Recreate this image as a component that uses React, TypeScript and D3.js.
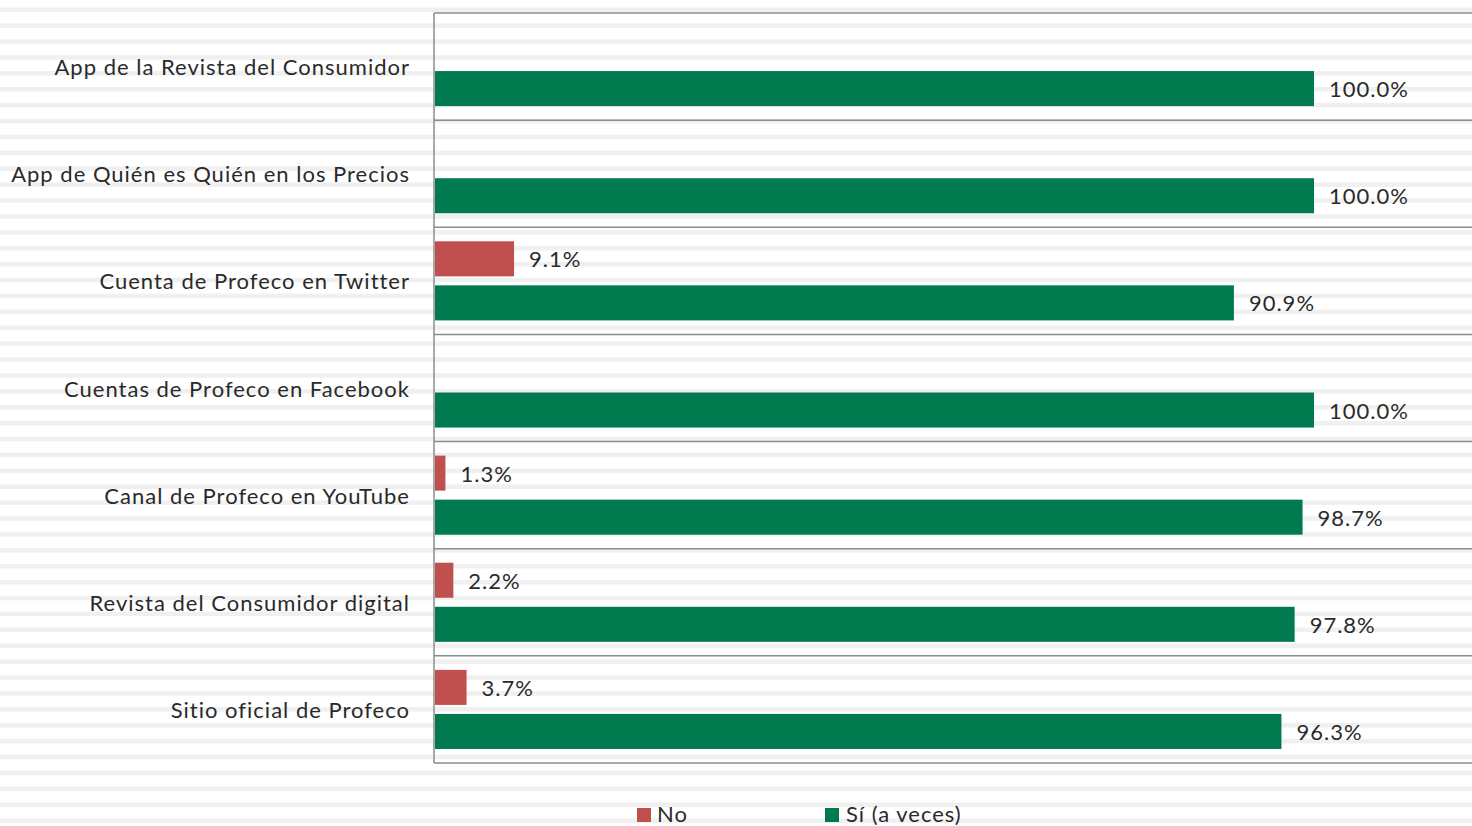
import React from "react";
import * as d3 from "d3";

const categories = [
  "App de la Revista del Consumidor",
  "App de Quién es Quién en los Precios",
  "Cuenta de Profeco en Twitter",
  "Cuentas de Profeco en Facebook",
  "Canal de Profeco en YouTube",
  "Revista del Consumidor digital",
  "Sitio oficial de Profeco",
];
const noValues: (number | null)[] = [null, null, 9.1, null, 1.3, 2.2, 3.7];
const siValues: number[] = [100, 100, 90.9, 100, 98.7, 97.8, 96.3];
const seriesNames = ["No", "Sí (a veces)"];
const seriesColors = ["#c0504d", "#007a4e"];

const W = 1472;
const H = 826;
const FONT = "Lato, 'Open Sans', sans-serif";
const TEXT = "#2a2a2a";
const LS = 1.0;

export default function App() {
  const left = 434;
  const top = 13;
  const bottom = 763;
  const y = d3.scaleBand<string>().domain(categories).range([top, bottom]).padding(0);
  const inner = d3
    .scaleBand<string>()
    .domain(seriesNames)
    .range([0, y.bandwidth()])
    .paddingInner(9 / 44)
    .paddingOuter(14 / 44);
  const x = d3.scaleLinear().domain([0, 100]).range([left, 1314]);
  const stripes = d3.range(7.5, H, 15.9);
  const fmt = (v: number) => v.toFixed(1) + "%";

  const bars: { cat: string; s: number; v: number }[] = [];
  categories.forEach((c, i) => {
    if (noValues[i] != null) bars.push({ cat: c, s: 0, v: noValues[i] as number });
    bars.push({ cat: c, s: 1, v: siValues[i] });
  });

  const legendItems = [
    { name: seriesNames[0], color: seriesColors[0], x: 637, tx: 657 },
    { name: seriesNames[1], color: seriesColors[1], x: 825, tx: 846 },
  ];

  const textStyle = { fontVariantLigatures: "none" as const, letterSpacing: LS + "px" };

  return (
    <svg
      width={W}
      height={H}
      style={{ position: "absolute", left: 0, top: 0, background: "#fff" }}
      fontFamily={FONT}
    >
      {stripes.map((s, i) => (
        <rect key={"st" + i} x={0} y={s} width={W} height={4.5} fill="#f0f0f0" />
      ))}
      {[...categories.map((c) => y(c) as number), bottom].map((yy, i) => (
        <line key={"sep" + i} x1={left} x2={W} y1={yy} y2={yy} stroke="#8c8c8c" strokeWidth={1.5} />
      ))}
      {bars.map((b, i) => {
        const by = (y(b.cat) as number) + (inner(seriesNames[b.s]) as number);
        const bw = inner.bandwidth();
        return (
          <g key={"b" + i}>
            <rect x={x(0) + 1} y={by} width={x(b.v) - x(0) - 1} height={bw} fill={seriesColors[b.s]} />
            <text
              x={x(b.v) + 15}
              y={by + bw / 2 + 3}
              dominantBaseline="middle"
              fontSize={22}
              fill={TEXT}
              style={textStyle}
            >
              {fmt(b.v)}
            </text>
          </g>
        );
      })}
      <line x1={left} x2={left} y1={top} y2={bottom} stroke="#8c8c8c" strokeWidth={1.5} />
      {categories.map((c) => (
        <text
          key={c}
          x={409 + LS}
          y={(y(c) as number) + y.bandwidth() / 2 + 3}
          textAnchor="end"
          dominantBaseline="middle"
          fontSize={22}
          fill={TEXT}
          style={textStyle}
        >
          {c}
        </text>
      ))}
      {legendItems.map((l) => (
        <g key={l.name}>
          <rect x={l.x} y={808} width={14} height={14} fill={l.color} />
          <text x={l.tx} y={816} dominantBaseline="middle" fontSize={22} fill={TEXT} style={textStyle}>
            {l.name}
          </text>
        </g>
      ))}
    </svg>
  );
}
